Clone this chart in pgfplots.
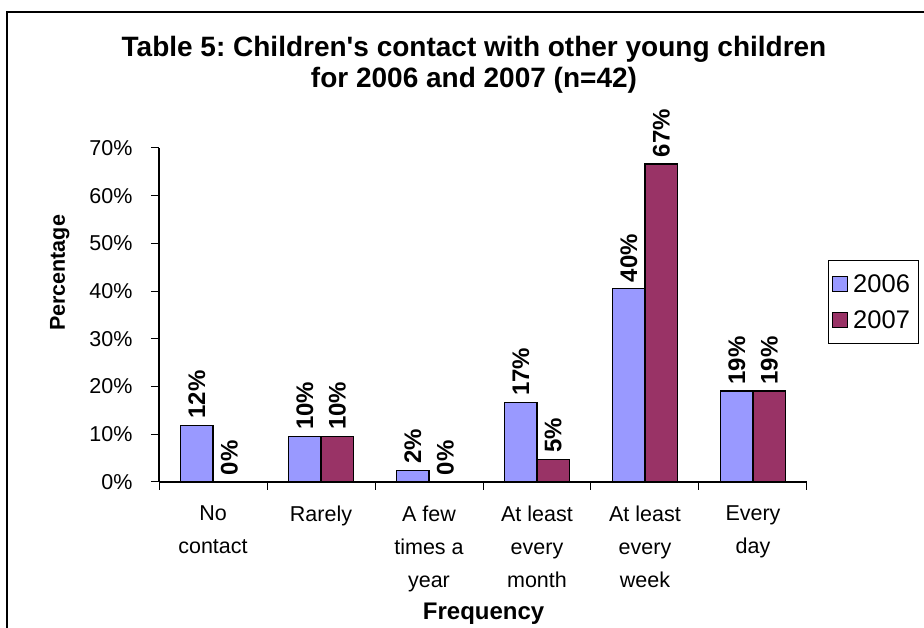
\documentclass[border=0pt]{standalone}
\usepackage{fontspec}
\setmainfont{Liberation Sans}
\usepackage{pgfplots}
\pgfplotsset{compat=1.18}
\definecolor{bar06}{RGB}{153,153,255}
\definecolor{bar07}{RGB}{153,51,102}
\pgfplotsset{sqlegend/.style={legend image code/.code={\draw[##1,line width=1pt] (0pt,-7.5pt) rectangle (15pt,7.5pt);}}}
\frenchspacing

\begin{document}
\begin{tikzpicture}[x=1pt,y=1pt]
\useasboundingbox (0,0) rectangle (924,628);
% chart frame
\draw[line width=1.3pt] (7,-2) -- (7,616) -- (926,616);
% chart title
\node[font=\bfseries\fontsize{28}{31}\selectfont, align=center] at (474,563)
  {Table 5: Children\textquotesingle s contact with other young children\\for 2006 and 2007 (n=42)};
\begin{axis}[
  at={(159pt,146pt)}, anchor=south west,
  scale only axis, width=648pt, height=334pt,
  xmin=-0.5, xmax=5.5, ymin=0, ymax=70,
  axis lines*=left,
  axis line style={line width=1.2pt},
  clip=false,
  ybar=0pt, bar width=32.5pt,
  xtick={-0.5,0.5,...,5.5},
  x tick label as interval,
  xticklabels={{No\\contact},{Rarely},{A few\\times a\\year},{At least\\every\\month},{At least\\every\\week},{Every\\day}},
  ytick={0,10,...,70},
  yticklabel={\pgfmathprintnumber{\tick}\%},
  tick align=outside, major tick length=8pt,
  tick style={black, line width=1pt},
  /pgf/number format/assume math mode=true,
  tick label style={font=\fontsize{21.5}{33}\selectfont},
  x tick label style={align=center, anchor=north, yshift=-12pt},
  y tick label style={xshift=-15pt},
  ylabel={Percentage},
  ylabel style={font=\bfseries\fontsize{21.5}{26}\selectfont, at={(axis description cs:-0.153,0.626)}, anchor=center},
  xlabel={Frequency},
  xlabel style={font=\bfseries\fontsize{24}{26}\selectfont, at={(axis description cs:0.501,-0.395)}, anchor=center},
  nodes near coords={\pgfmathprintnumber[fixed,precision=0]{\pgfplotspointmeta}\%},
  nodes near coords style={rotate=90, anchor=west, font=\bfseries\fontsize{24}{28}\selectfont, black, inner sep=6pt},
  legend style={at={(axis description cs:1.032,0.665)}, anchor=north west,
    draw=black, line width=1pt, font=\fontsize{25.5}{28}\selectfont,
    inner xsep=4pt, inner ysep=11pt, row sep=11pt,
    nodes={inner xsep=5pt, inner ysep=3pt}},
  legend cell align=left,
]
\addplot[fill=bar06, draw=black, line width=1.3pt, sqlegend]
  coordinates {(0,11.90) (1,9.52) (2,2.38) (3,16.67) (4,40.48) (5,19.05)};
\addplot[fill=bar07, draw=black, line width=1.3pt, sqlegend]
  coordinates {(0,0) (1,9.52) (2,0) (3,4.76) (4,66.67) (5,19.05)};
\legend{2006,2007}
\end{axis}
\end{tikzpicture}
\end{document}
